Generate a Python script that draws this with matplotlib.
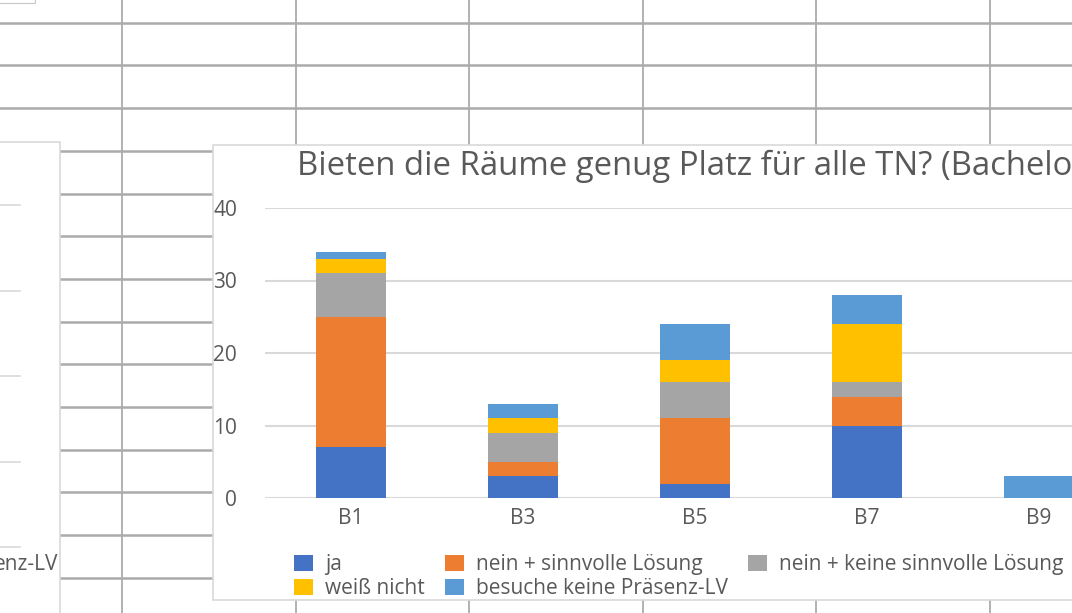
import matplotlib
matplotlib.use("Agg")
import matplotlib.pyplot as plt
from matplotlib.patches import Rectangle
import numpy as np

# data
categories = ["B1", "B3", "B5", "B7", "B9"]
ja = [7, 3, 2, 10, 0]
nein_sinnvoll = [18, 2, 9, 4, 0]
nein_keine = [6, 4, 5, 2, 0]
weiss_nicht = [2, 2, 3, 8, 0]
keine_praesenz = [1, 2, 5, 4, 3]

series_names = ["ja", "nein + sinnvolle Lösung", "nein + keine sinnvolle Lösung",
                "weiß nicht", "besuche keine Präsenz-LV"]
series_colors = ["#4472C4", "#ED7D31", "#A5A5A5", "#FFC000", "#5B9BD5"]
y_ticks = [0, 10, 20, 30, 40]
title = "Bieten die Räume genug Platz für alle TN? (Bachelor)"

plt.rcParams['font.family'] = ['Open Sans', 'DejaVu Sans']
text_col = "#595959"

W, H = 1072, 613
fig = plt.figure(figsize=(W / 100, H / 100), dpi=100)


def fx(px):
    return px / W


def fy(py):
    return 1 - py / H


# spreadsheet background
bg = fig.add_axes([0, 0, 1, 1])
bg.set_xlim(0, W)
bg.set_ylim(H, 0)
bg.axis("off")
grid_col = "#ABABAB"
for y in np.arange(22.7, H, 42.7):
    bg.plot([0, W], [y, y], color=grid_col, lw=1.8, zorder=1)
for x in [122, 296, 469, 643, 816, 990]:
    bg.plot([x, x], [0, H], color=grid_col, lw=1.3, zorder=1)
bg.add_patch(Rectangle((-2, -2), 37, 5, facecolor="white", edgecolor="#C8C8C8", lw=0.8, zorder=2))

# chart on the left, mostly hidden
bg.add_patch(Rectangle((-5, 142), 64.5, 500, facecolor="white", edgecolor="#D9D9D9", lw=1.2, zorder=2))
for y in [205, 291, 376, 462, 547]:
    bg.plot([0, 20], [y, y], color="#D9D9D9", lw=1.2, zorder=3)
bg.text(58, 564, "enz-LV", ha="right", va="center", fontsize=15, color=text_col, zorder=3)

# main chart frame
bg.add_patch(Rectangle((212.5, 145), 900, 455, facecolor="white", edgecolor="#D9D9D9", lw=1.2, zorder=2))

# plot area
ax = fig.add_axes([fx(265), fy(498), fx(860), (498 - 208) / H])
ax.patch.set_alpha(0)
x = np.arange(len(categories))
bottom = np.zeros(len(categories))
series = [ja, nein_sinnvoll, nein_keine, weiss_nicht, keine_praesenz]
bars = []
for vals, name, col in zip(series, series_names, series_colors):
    b = ax.bar(x, vals, width=0.407, bottom=bottom, color=col, label=name, lw=0, zorder=3)
    bars.append(b)
    bottom += np.array(vals)

ax.set_xlim(-0.5, len(categories) - 0.5)
ax.set_ylim(0, 40)
ax.set_yticks(y_ticks)
ax.set_xticks(x)
ax.set_xticklabels(categories)
ax.yaxis.grid(True, color="#D9D9D9", lw=1.5, zorder=0)
ax.set_axisbelow(True)
for s in ["top", "right", "left", "bottom"]:
    ax.spines[s].set_visible(False)
ax.tick_params(axis="both", length=0, labelsize=15, colors=text_col)
ax.tick_params(axis="y", pad=20)
ax.tick_params(axis="x", pad=7)

fig.text(fx(297), fy(175), title, fontsize=23.7, color=text_col, ha="left", va="baseline")

# legend, row-major order like Excel
order = [0, 3, 1, 4, 2]
leg = fig.legend([bars[i] for i in order], [series_names[i] for i in order],
                 ncol=3, loc="upper left", bbox_to_anchor=(fx(294), fy(554)),
                 frameon=False, fontsize=15, labelcolor=text_col, borderpad=0,
                 borderaxespad=0, handlelength=0.91, handleheight=0.77,
                 handletextpad=0.58, columnspacing=0.96, labelspacing=0.15)

fig.savefig("out.png", dpi=100)
